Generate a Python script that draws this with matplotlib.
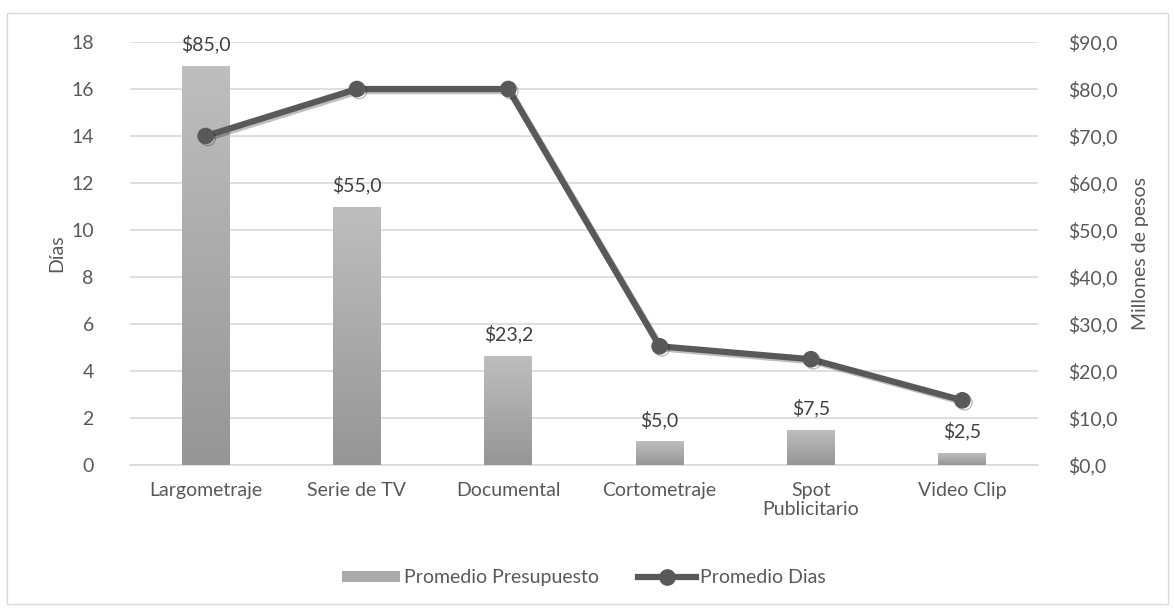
import numpy as np
import matplotlib.pyplot as plt
from matplotlib.patches import Rectangle, Patch
from matplotlib.lines import Line2D
from matplotlib.colors import LinearSegmentedColormap
import matplotlib.patheffects as pe

plt.rcParams['font.family'] = ['Lato', 'DejaVu Sans']

# Data
categorias = ['Largometraje', 'Serie de TV', 'Documental', 'Cortometraje',
              'Spot\nPublicitario', 'Video Clip']
presupuesto = [85.0, 55.0, 23.2, 5.0, 7.5, 2.5]   # millones de pesos
dias = [14, 16, 16, 5.05, 4.5, 2.75]

txt = '#595959'
grid = '#d9d9d9'
fs = 14

fig = plt.figure(figsize=(11.75, 6.09), dpi=100)
ax2 = fig.add_axes([0.1106, 0.2365, 0.7728, 0.6945])
ax1 = ax2.twinx()
ax1.yaxis.tick_left()
ax1.yaxis.set_label_position('left')
ax2.yaxis.tick_right()
ax2.yaxis.set_label_position('right')
ax1.set_zorder(ax2.get_zorder() + 1)
ax1.patch.set_visible(False)

x = np.arange(len(categorias))
w = 0.317

# bars with vertical gradient (right axis)
bars = ax2.bar(x, presupuesto, width=w, color='#a8a8a8', zorder=2)
grad = np.linspace(0, 1, 100).reshape(-1, 1)
cmap = LinearSegmentedColormap.from_list('g', ['#969696', '#bebebe'])
for b in bars:
    x0, h = b.get_x(), b.get_height()
    im = ax2.imshow(grad, cmap=cmap, vmin=0, vmax=1, aspect='auto',
                    extent=(x0, x0 + w, 0, h), origin='lower', zorder=3)
    im.set_clip_path(b)

for xi, v in zip(x, presupuesto):
    ax2.annotate('$' + f'{v:.1f}'.replace('.', ','), (xi, v), xytext=(0, 9),
                 textcoords='offset points', ha='center', va='bottom',
                 fontsize=fs, color='#404040', zorder=5)

ax2.set_ylim(0, 90)
ax2.set_xlim(-0.5, len(categorias) - 0.5)
ax2.set_yticks(np.arange(0, 91, 10))
ax2.set_yticklabels(['$' + f'{v:.1f}'.replace('.', ',') for v in np.arange(0, 91, 10)])
ax2.grid(axis='y', color=grid, linewidth=1.2, zorder=0)
ax2.set_axisbelow(True)
ax2.set_ylabel('Millones de pesos', color=txt, fontsize=fs, labelpad=10)

# line (left axis)
ax1.plot(x, dias, color='#595959', linewidth=4.5, marker='o', markersize=11,
         zorder=4, solid_capstyle='round',
         path_effects=[pe.SimpleLineShadow(offset=(1.5, -1.5), alpha=0.25),
                       pe.Normal()])
ax1.set_ylim(0, 18)
ax1.set_yticks(np.arange(0, 19, 2))
ax1.set_ylabel('Días', color=txt, fontsize=fs, labelpad=4)

ax2.set_xticks(x)
ax2.set_xticklabels(categorias)

for ax in (ax1, ax2):
    for s in ax.spines.values():
        s.set_visible(False)
    ax.tick_params(axis='both', length=0, labelsize=fs, colors=txt)
ax2.spines['bottom'].set_visible(True)
ax2.spines['bottom'].set_color(grid)
ax2.spines['bottom'].set_linewidth(1.2)
ax2.tick_params(axis='x', pad=12)
ax1.tick_params(axis='y', pad=26)
ax2.tick_params(axis='y', pad=22)

# legend
handles = [Patch(facecolor='#aaaaaa', edgecolor='none'),
           Line2D([], [], color='#595959', linewidth=4.5, marker='o', markersize=11)]
fig.legend(handles, ['Promedio Presupuesto', 'Promedio Dias'], loc='center',
           bbox_to_anchor=(0.497, 0.051), ncol=2, frameon=False, fontsize=fs,
           labelcolor=txt, handlelength=3.0, handleheight=0.45, handletextpad=0.2,
           columnspacing=2.0)

fig.patches.append(Rectangle((0.006, 0.008), 0.988, 0.971, transform=fig.transFigure,
                             fill=False, edgecolor=grid, linewidth=1))

fig.savefig('out.png', dpi=100)
